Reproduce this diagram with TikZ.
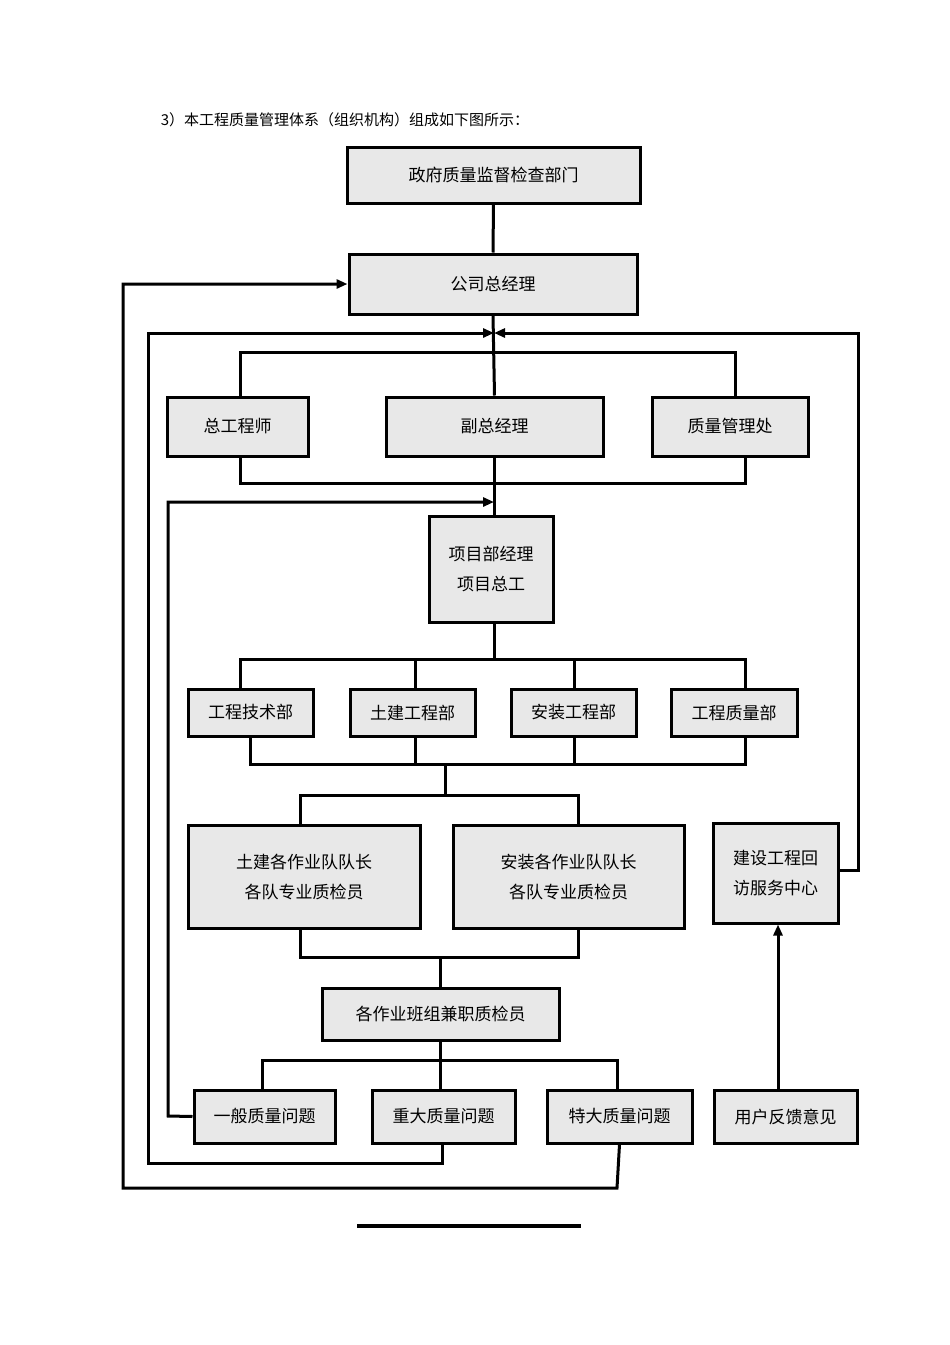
\documentclass[tikz,border=0pt]{standalone}
\usepackage{fontspec}
\setmainfont{Liberation Sans}
\newfontfamily\cjk{Noto Sans CJK SC}
\usetikzlibrary{arrows.meta}
\begin{document}
\begin{tikzpicture}[x=1pt,y=-1pt,line width=3pt,
  bx/.style={draw,fill=black!9,inner sep=0pt,font=\cjk\fontsize{17}{24}\selectfont,align=center},
  arr/.style={-{Triangle[length=11pt,width=9pt]}}]
\useasboundingbox (0,0) rectangle (950,1345);
\newcommand{\bxx}[6]{\node[bx,minimum width=#4-#2,minimum height=#5-#3] (#1) at ({(#2+#4)/2},{(#3+#5)/2}) {#6};}
\node[anchor=west,font=\cjk\fontsize{15}{18}\selectfont] (title) at (156,120) {3）本工程质量管理体系（组织机构）组成如下图所示：};
\bxx{A}{347}{147}{640}{203}{政府质量监督检查部门}
\bxx{B}{349}{254}{637}{314}{公司总经理}
\bxx{C1}{167}{397}{308}{456}{总工程师}
\bxx{C2}{386}{397}{603}{456}{副总经理}
\bxx{C3}{652}{397}{808}{456}{质量管理处}
\bxx{P}{429}{516}{553}{622}{项目部经理\\[6pt]项目总工}
\bxx{D1}{188}{689}{313}{736}{工程技术部}
\bxx{D2}{350}{689}{475}{736}{土建工程部}
\bxx{D3}{511}{689}{636}{736}{安装工程部}
\bxx{D4}{671}{689}{797}{736}{工程质量部}
\bxx{E1}{188}{825}{420}{928}{土建各作业队队长\\[6pt]各队专业质检员}
\bxx{E2}{453}{825}{684}{928}{安装各作业队队长\\[6pt]各队专业质检员}
\bxx{R}{713}{823}{838}{923}{建设工程回\\[6pt]访服务中心}
\bxx{G}{322}{988}{559}{1040}{各作业班组兼职质检员}
\bxx{F1}{194}{1090}{335}{1143}{一般质量问题}
\bxx{F2}{372}{1090}{515}{1143}{重大质量问题}
\bxx{F3}{547}{1090}{692}{1143}{特大质量问题}
\bxx{U}{714}{1090}{857}{1143}{用户反馈意见}
\coordinate (j1) at (494,333);
\coordinate (j2) at (494,502);
% trunk
\draw (A.south) -- (B.north);
\draw (B.south) -- (C2.north);
\draw (C2.south) -- (P.north-|C2.south);
\draw (240,397) -- (240,352) -- (735,352) -- (735,397);
\draw (240,456) -- (240,483) -- (745,483) -- (745,456);
\draw (494,622) -- (494,659);
\draw (240,689) -- (240,659) -- (745,659) -- (745,689);
\draw (415,659) -- (415,689);
\draw (574,659) -- (574,689);
\draw (250,736) -- (250,764) -- (745,764) -- (745,736);
\draw (415,736) -- (415,764);
\draw (574,736) -- (574,764);
\draw (445,764) -- (445,795);
\draw (300,825) -- (300,795) -- (578,795) -- (578,825);
\draw (300,928) -- (300,957) -- (578,957) -- (578,928);
\draw (440,957) -- (440,988);
\draw (440,1040) -- (440,1060);
\draw (262,1090) -- (262,1060) -- (617,1060) -- (617,1090);
\draw (440,1060) -- (440,1090);
% feedback loops
\draw[arr] (F3.south) -- (617,1188) -- (123,1188) -- (123,284) -- (B.west|-0,284);
\draw[arr] (F2.south-|442,0) -- (442,1163) -- (148,1163) -- (148,333) -- (j1);
\draw[arr] (R.east|-0,870) -- (858,870) -- (858,333) -- (j1);
\draw[arr] (F1.west) -- (168,1116) -- (168,502) -- (j2);
\draw[arr] (U.north-|778,0) -- (R.south-|778,0);
\draw[line width=4pt] (357,1226) -- (581,1226);
\end{tikzpicture}
\end{document}
